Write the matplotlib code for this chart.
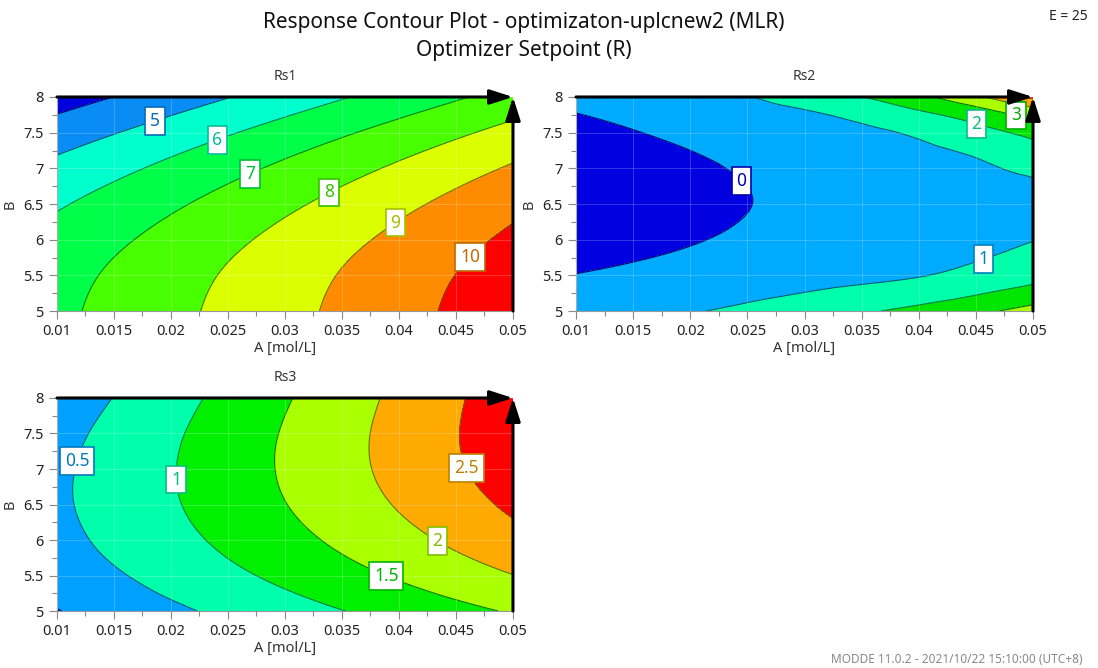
import numpy as np
import matplotlib
matplotlib.use("Agg")
import matplotlib.pyplot as plt
import matplotlib.tri as mtri
from matplotlib.colors import to_rgb
from matplotlib.ticker import AutoMinorLocator

plt.rcParams['font.family'] = ['Noto Sans', 'DejaVu Sans']

# factor grid (A across, B up)
A_vals = [0.01, 0.015, 0.02, 0.025, 0.03, 0.035, 0.04, 0.045, 0.05]
B_vals = [5, 5.5, 6, 6.5, 7, 7.5, 8]
A_labels = ['0.01', '0.015', '0.02', '0.025', '0.03', '0.035', '0.04', '0.045', '0.05']
B_labels = ['5', '5.5', '6', '6.5', '7', '7.5', '8']

# Rs1, rows B=5..8
rs1 = [
    [6.79, 7.27, 7.75, 8.23, 8.71, 9.19, 9.67, 10.15, 10.63],
    [6.65, 7.13, 7.61, 8.09, 8.57, 9.05, 9.53, 10.01, 10.49],
    [6.35, 6.83, 7.31, 7.79, 8.27, 8.75, 9.23, 9.71, 10.19],
    [5.89, 6.37, 6.85, 7.33, 7.81, 8.29, 8.77, 9.25, 9.73],
    [5.27, 5.75, 6.23, 6.71, 7.19, 7.67, 8.15, 8.63, 9.11],
    [4.48, 4.96, 5.44, 5.92, 6.40, 6.88, 7.36, 7.84, 8.32],
    [3.53, 4.01, 4.49, 4.97, 5.45, 5.93, 6.41, 6.89, 7.37],
]
rs1_levels = [4, 5, 6, 7, 8, 9, 10]
rs1_colors = ['#0000dc', '#0a8cf5', '#00ffcc', '#00ff48', '#48ff00', '#dcff00', '#ff8c00', '#ff0000']
rs1_labels = [5, 6, 7, 8, 9, 10]
rs1_label_pos = [(0.0186, 7.66), (0.0241, 7.39), (0.0270, 6.90), (0.0339, 6.66), (0.0397, 6.24), (0.0462, 5.76)]

# Rs2 (steep corner at top right, so two extra rows there)
rs2_B = [5, 5.5, 6, 6.5, 7, 7.25, 7.5, 7.75, 8]
rs2 = [
    [0.665, 0.803, 0.941, 1.193, 1.529, 1.864, 2.287, 2.767, 3.357],
    [0.025, 0.178, 0.332, 0.487, 0.643, 0.800, 0.958, 1.281, 1.662],
    [-0.388, -0.219, -0.050, 0.121, 0.292, 0.465, 0.639, 0.813, 0.989],
    [-0.571, -0.387, -0.202, -0.016, 0.171, 0.359, 0.548, 0.738, 0.930],
    [-0.525, -0.326, -0.125, 0.076, 0.278, 0.482, 0.686, 0.892, 1.120],
    [-0.416, -0.209, -0.001, 0.208, 0.418, 0.630, 0.842, 1.131, 1.641],
    [-0.250, -0.035, 0.181, 0.398, 0.616, 0.835, 1.131, 1.657, 2.260],
    [-0.027, 0.195, 0.419, 0.644, 0.869, 1.229, 1.771, 2.440, 3.295],
    [0.253, 0.484, 0.715, 0.947, 1.429, 1.988, 2.767, 3.795, 5.240],
]
rs2_levels = [0, 1, 2, 3, 4, 5]
rs2_colors = ['#0000e0', '#00aaff', '#00ffaa', '#00e600', '#aaff00', '#ffa500', '#ff0000']
rs2_labels = [0, 1, 2, 3]
rs2_label_pos = [(0.0245, 6.83), (0.0457, 5.71), (0.0450, 7.60), (0.0485, 7.72)]

# Rs3
rs3 = [
    [-0.02, 0.215, 0.410, 0.605, 0.798, 0.988, 1.177, 1.364, 1.547],
    [0.227, 0.447, 0.669, 0.891, 1.112, 1.333, 1.553, 1.772, 1.989],
    [0.361, 0.604, 0.849, 1.096, 1.343, 1.591, 1.840, 2.089, 2.336],
    [0.422, 0.684, 0.950, 1.219, 1.489, 1.762, 2.036, 2.312, 2.587],
    [0.412, 0.690, 0.973, 1.260, 1.551, 1.845, 2.142, 2.442, 2.743],
    [0.339, 0.631, 0.928, 1.229, 1.535, 1.845, 2.160, 2.480, 2.803],
    [0.204, 0.510, 0.821, 1.136, 1.456, 1.780, 2.109, 2.443, 2.780],
]
rs3_levels = [0, 0.5, 1, 1.5, 2, 2.5]
rs3_colors = ['#0000e0', '#00a0ff', '#00ffaa', '#00f000', '#aaff00', '#ffaa00', '#ff0000']
rs3_labels = [0.5, 1, 1.5, 2, 2.5]
rs3_label_pos = [(0.0115, 7.13), (0.0203, 6.85), (0.0389, 5.50), (0.0435, 6.02), (0.0462, 7.03)]


def darken(c, f):
    r, g, b = to_rgb(c)
    return (r * f, g * f, b * f)


def contour_panel(ax, z, b_rows, levels, colors, labelled, label_pos, title):
    Z = np.array(z, dtype=float)
    AA, BB = np.meshgrid(A_vals, b_rows)
    ny, nx = Z.shape
    tris = []
    for j in range(ny - 1):
        for i in range(nx - 1):
            p = j * nx + i
            tris.append([p, p + 1, p + nx + 1])
            tris.append([p, p + nx + 1, p + nx])
    sx = 75.0  # make A and B comparable for the smoothing
    tri = mtri.Triangulation(AA.ravel() * sx, BB.ravel(), tris)
    tri_f, z_f = mtri.UniformTriRefiner(tri).refine_field(Z.ravel(), subdiv=4)
    tri_f = mtri.Triangulation(tri_f.x / sx, tri_f.y, tri_f.triangles)

    bounds = [-1e3] + list(levels) + [1e3]
    ax.tricontourf(tri_f, z_f, levels=bounds, colors=colors)
    line_cols = [darken(c, 0.5) for c in colors[:-1]]
    ax.tricontour(tri_f, z_f, levels=levels, colors=line_cols, linewidths=0.8)

    # labelled lines only, drawn invisibly so clabel can place the boxes
    cs = ax.tricontour(tri_f, z_f, levels=labelled, colors='none', linewidths=0)
    texts = cs.clabel(manual=label_pos, inline=False, fmt=lambda v: f'{v:g}', fontsize=12.5)
    for t in texts:
        v = float(t.get_text())
        c = darken(colors[list(levels).index(v)], 0.75)
        t.set_color(c)
        t.set_rotation(0)
        t.set_bbox(dict(boxstyle='square,pad=0.28', fc='white', ec=c, lw=1.2))
        t.set_zorder(6)

    ax.set_xlim(A_vals[0], A_vals[-1])
    ax.set_ylim(B_vals[0], B_vals[-1])
    ax.set_xticks(A_vals)
    ax.set_xticklabels(A_labels)
    ax.set_yticks(B_vals)
    ax.set_yticklabels(B_labels)
    ax.xaxis.set_minor_locator(AutoMinorLocator(2))
    ax.yaxis.set_minor_locator(AutoMinorLocator(2))
    ax.tick_params(which='both', direction='out', color='#888888', labelcolor='#222222',
                   labelsize=10.5, width=0.8)
    ax.tick_params(which='major', length=6)
    ax.tick_params(which='minor', length=3.5)
    ax.grid(True, color='white', alpha=0.2, lw=0.8)
    ax.set_axisbelow(False)
    for s in ['top', 'right']:
        ax.spines[s].set_visible(False)
    for s in ['left', 'bottom']:
        ax.spines[s].set_color('#999999')
        ax.spines[s].set_linewidth(0.8)
    ax.set_title(title, fontsize=10, color='#333333', pad=12)
    ax.set_xlabel('A [mol/L]', fontsize=10.5, color='#333333', labelpad=1)
    ax.set_ylabel('B', fontsize=10.5, color='#333333', labelpad=4)

    arrow = dict(arrowstyle='-|>,head_length=1.0,head_width=0.32', lw=2.2, color='black',
                 mutation_scale=14, shrinkA=0, shrinkB=0)
    ax.annotate('', xy=(1, 1), xytext=(0, 1), xycoords='axes fraction',
                arrowprops=arrow, annotation_clip=False, zorder=7)
    ax.annotate('', xy=(1, 1), xytext=(1, 0), xycoords='axes fraction',
                arrowprops=arrow, annotation_clip=False, zorder=7)


fig = plt.figure(figsize=(10.98, 6.68), dpi=100)
ax1 = fig.add_axes([0.0519, 0.5344, 0.4153, 0.3204])
ax2 = fig.add_axes([0.5246, 0.5344, 0.4162, 0.3204])
ax3 = fig.add_axes([0.0519, 0.0853, 0.4153, 0.3189])

contour_panel(ax1, rs1, B_vals, rs1_levels, rs1_colors, rs1_labels, rs1_label_pos, 'Rs1')
contour_panel(ax2, rs2, rs2_B, rs2_levels, rs2_colors, rs2_labels, rs2_label_pos, 'Rs2')
contour_panel(ax3, rs3, B_vals, rs3_levels, rs3_colors, rs3_labels, rs3_label_pos, 'Rs3')

fig.text(0.477, 0.967, 'Response Contour Plot - optimizaton-uplcnew2 (MLR)',
         ha='center', va='center', fontsize=15, color='#111111')
fig.text(0.477, 0.925, 'Optimizer Setpoint (R)', ha='center', va='center',
         fontsize=15, color='#111111')
fig.text(0.973, 0.975, 'E = 25', ha='center', va='center', fontsize=10, color='#222222')
fig.text(0.757, 0.003, 'MODDE 11.0.2 - 2021/10/22 15:10:00 (UTC+8)', ha='left', va='bottom',
         fontsize=8.5, color='#888888')

fig.savefig('out.png', dpi=100)
